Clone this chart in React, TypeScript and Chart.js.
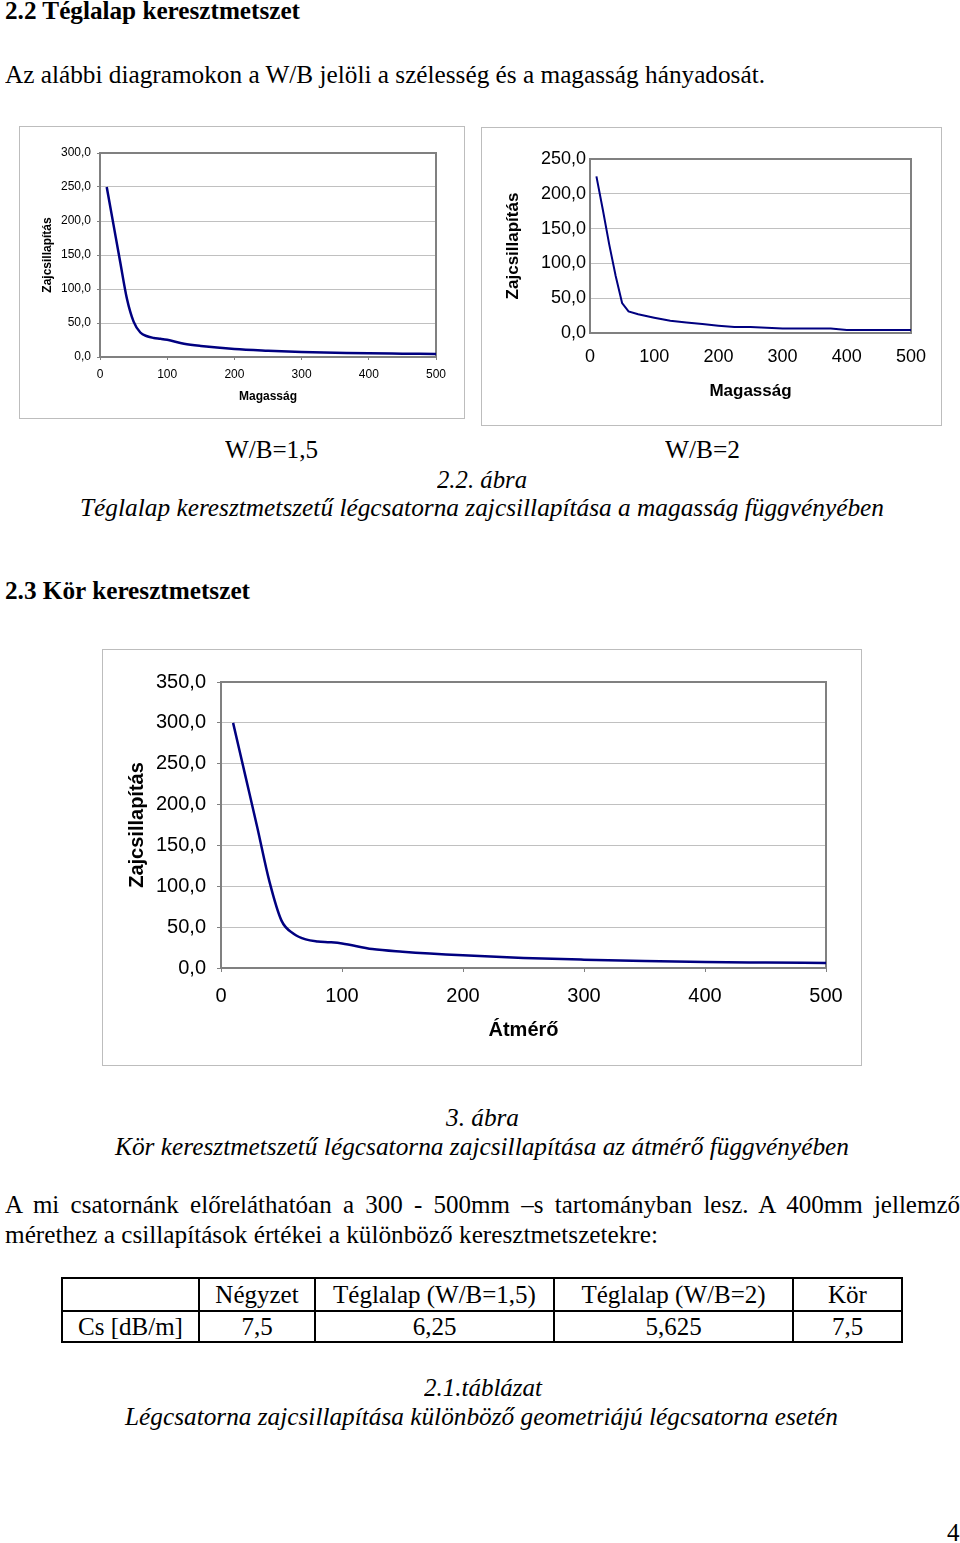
import React, { useEffect, useLayoutEffect, useRef } from 'react';
import { Chart, registerables } from 'chart.js';

Chart.register(...registerables);

// ---------- data ----------
const wb15X = [10, 20, 30, 40, 50, 60, 70, 80, 90, 100, 125, 150, 200, 250, 300, 350, 400, 450, 500];
const wb15Y = [250, 195, 140, 86, 52, 36, 30.5, 28, 26.8, 25.3, 19.5, 16.2, 11.8, 9.3, 7.4, 6.4, 5.4, 4.9, 4.4];

const wb2X = [10, 20, 30, 40, 50, 60, 75, 100, 125, 150, 175, 200, 225, 250, 300, 350, 375, 400, 450, 500];
const wb2Y = [225, 177, 127, 82, 43, 31, 27, 22, 17.5, 15, 12.8, 10.5, 8.6, 8.6, 6.3, 6.3, 6.3, 4.2, 4.2, 4.2];

const korX = [10, 20, 30, 40, 50, 60, 70, 80, 90, 100, 125, 150, 200, 250, 300, 350, 400, 450, 500];
const korY = [300, 236, 172, 106, 58, 42, 35, 32.5, 31.5, 30, 23.2, 20, 15.5, 12.3, 10.2, 8.6, 7.4, 6.7, 6.1];

const yTitle = 'Zajcsillapítás';
const xTitleRect = 'Magasság';
const xTitleKor = 'Átmérő';

const tableHead = ['', 'Négyzet', 'Téglalap (W/B=1,5)', 'Téglalap (W/B=2)', 'Kör'];
const tableRow = ['Cs [dB/m]', '7,5', '6,25', '5,625', '7,5'];

// ---------- chart ----------
const SANS = '"Liberation Sans", Arial, sans-serif';
const SERIF = '"Liberation Serif", "Times New Roman", serif';

const framePlugin = {
  id: 'frame',
  beforeDatasetsDraw(chart: any) {
    const { ctx, chartArea } = chart;
    const { left, top, right, bottom } = chartArea;
    ctx.save();
    ctx.strokeStyle = '#808080';
    ctx.lineWidth = 2;
    ctx.beginPath();
    ctx.moveTo(left, top);
    ctx.lineTo(right, top);
    ctx.lineTo(right, bottom);
    ctx.stroke();
    ctx.restore();
  },
};

type Spec = {
  left: number; top: number; w: number; h: number;
  xs: number[]; ys: number[]; yMax: number;
  area: { l: number; t: number; r: number; b: number };
  tickSize: number; titleSize: number; tickLen: number;
  yTickPad: number; xTickPad: number; yTitlePad: number; xTitlePad: number;
  lineWidth: number; smooth: boolean; xTitle: string;
};

function LineChart({ s }: { s: Spec }) {
  const ref = useRef<HTMLCanvasElement>(null);
  const cw = s.w - 2;
  const ch = s.h - 2;
  useEffect(() => {
    if (!ref.current) return;
    const tickFont = { family: SANS, size: s.tickSize };
    const titleFont = { family: SANS, size: s.titleSize, weight: 'bold' as const };
    const chart = new Chart(ref.current, {
      type: 'line',
      data: {
        datasets: [
          {
            data: s.xs.map((x, i) => ({ x, y: s.ys[i] })),
            borderColor: '#000080',
            borderWidth: s.lineWidth,
            pointRadius: 0,
            fill: false,
            tension: s.smooth ? 0.4 : 0,
            cubicInterpolationMode: s.smooth ? 'monotone' : 'default',
          } as any,
        ],
      },
      options: {
        animation: false,
        responsive: false,
        maintainAspectRatio: false,
        devicePixelRatio: 1,
        events: [],
        plugins: { legend: { display: false }, tooltip: { enabled: false } },
        layout: { padding: { left: 0, top: s.area.t, right: cw - s.area.r, bottom: 0 } },
        scales: {
          x: {
            type: 'linear',
            min: 0,
            max: 500,
            ticks: { stepSize: 100, font: tickFont, color: '#000', padding: s.xTickPad, maxRotation: 0, autoSkip: false },
            grid: { drawOnChartArea: false, color: '#808080', tickColor: '#808080', tickLength: s.tickLen, lineWidth: 1 },
            border: { color: '#808080', width: 2 },
            title: { display: true, text: s.xTitle, font: titleFont, color: '#000', padding: { top: 0, bottom: s.xTitlePad } },
            afterFit: (sc: any) => { sc.height = ch - s.area.b; },
          },
          y: {
            type: 'linear',
            min: 0,
            max: s.yMax,
            ticks: {
              stepSize: 50,
              font: tickFont,
              color: '#000',
              padding: s.yTickPad,
              callback: (v: any) => Number(v).toFixed(1).replace('.', ','),
            },
            grid: { color: '#c0c0c0', tickColor: '#808080', tickLength: s.tickLen, lineWidth: 1 },
            border: { color: '#808080', width: 2 },
            title: { display: true, text: yTitle, font: titleFont, color: '#000', padding: { top: s.yTitlePad, bottom: 0 } },
            afterFit: (sc: any) => { sc.width = s.area.l; },
          },
        },
      } as any,
      plugins: [framePlugin],
    });
    return () => chart.destroy();
  }, [s]);
  return (
    <div
      style={{
        position: 'absolute',
        left: s.left,
        top: s.top,
        width: cw,
        height: ch,
        border: '1px solid #bdbdbd',
        background: '#fff',
      }}
    >
      <canvas ref={ref} width={cw} height={ch} style={{ display: 'block', width: cw, height: ch }} />
    </div>
  );
}

const chart1: Spec = {
  left: 19, top: 126, w: 446, h: 293,
  xs: wb15X, ys: wb15Y, yMax: 300,
  area: { l: 80, t: 26, r: 416, b: 230 },
  tickSize: 12, titleSize: 12, tickLen: 3,
  yTickPad: 6, xTickPad: 7, yTitlePad: 20, xTitlePad: 14,
  lineWidth: 2.5, smooth: true, xTitle: xTitleRect,
};

const chart2: Spec = {
  left: 481, top: 127, w: 461, h: 299,
  xs: wb2X, ys: wb2Y, yMax: 250,
  area: { l: 108, t: 31, r: 429, b: 205 },
  tickSize: 18, titleSize: 17, tickLen: 0,
  yTickPad: 4, xTickPad: 13, yTitlePad: 21, xTitlePad: 23,
  lineWidth: 2, smooth: false, xTitle: xTitleRect,
};

const chart3: Spec = {
  left: 102, top: 649, w: 760, h: 417,
  xs: korX, ys: korY, yMax: 350,
  area: { l: 118, t: 32, r: 723, b: 318 },
  tickSize: 20, titleSize: 20, tickLen: 4,
  yTickPad: 11, xTickPad: 12, yTitlePad: 22, xTitlePad: 23,
  lineWidth: 2.5, smooth: true, xTitle: xTitleKor,
};

// ---------- text ----------
type TProps = {
  x: number; base: number; text: string; w?: number; size?: number;
  bold?: boolean; italic?: boolean; justify?: boolean;
};

function T({ x, base, text, w, size = 25, bold, italic, justify }: TProps) {
  const ref = useRef<HTMLSpanElement>(null);
  useLayoutEffect(() => {
    const el = ref.current;
    if (!el || !w) return;
    el.style.transform = '';
    el.style.wordSpacing = '';
    const nat = el.getBoundingClientRect().width;
    if (!nat) return;
    if (justify) {
      const n = (text.match(/ /g) || []).length;
      const extra = (w - nat) / Math.max(n, 1);
      if (extra >= 0) {
        el.style.wordSpacing = extra + 'px';
        return;
      }
    }
    el.style.transform = `scaleX(${w / nat})`;
  }, [w, text, justify, size]);
  return (
    <span
      ref={ref}
      style={{
        position: 'absolute',
        left: x,
        top: base - 0.8375 * size,
        fontSize: size,
        lineHeight: `${size}px`,
        whiteSpace: 'pre',
        fontWeight: bold ? 700 : 400,
        fontStyle: italic ? 'italic' : 'normal',
        transformOrigin: '0 0',
        display: 'inline-block',
      }}
    >
      {text}
    </span>
  );
}

function Table() {
  const cols = [62, 199, 315, 554, 793, 902];
  const rows = [1278, 1311, 1342];
  const lines: React.ReactNode[] = [];
  rows.forEach((y, i) =>
    lines.push(
      <div key={'h' + i} style={{ position: 'absolute', left: cols[0] - 1, top: y - 1, width: cols[5] - cols[0] + 2, height: 2, background: '#000' }} />
    )
  );
  cols.forEach((x, i) =>
    lines.push(
      <div key={'v' + i} style={{ position: 'absolute', left: x - 1, top: rows[0] - 1, width: 2, height: rows[2] - rows[0] + 2, background: '#000' }} />
    )
  );
  const cells: React.ReactNode[] = [];
  [tableHead, tableRow].forEach((row, r) =>
    row.forEach((txt, c) =>
      cells.push(
        <div
          key={`c${r}-${c}`}
          style={{
            position: 'absolute',
            left: cols[c],
            top: rows[r],
            width: cols[c + 1] - cols[c],
            height: rows[r + 1] - rows[r],
            display: 'flex',
            alignItems: 'center',
            justifyContent: 'center',
            fontSize: 25,
            lineHeight: '25px',
            whiteSpace: 'pre',
          }}
        >
          {txt}
        </div>
      )
    )
  );
  return (
    <>
      {lines}
      {cells}
    </>
  );
}

export default function App() {
  useLayoutEffect(() => {
    document.body.style.margin = '0';
    document.body.style.background = '#fff';
  }, []);
  return (
    <div
      style={{
        position: 'relative',
        width: 960,
        height: 1543,
        overflow: 'hidden',
        fontFamily: SERIF,
        color: '#000',
        background: '#fff',
      }}
    >
      <T x={5} base={19} w={295} bold text="2.2 Téglalap keresztmetszet" />
      <T x={5} base={83} w={760} text="Az alábbi diagramokon a W/B jelöli a szélesség és a magasság hányadosát." />

      <LineChart s={chart1} />
      <LineChart s={chart2} />

      <T x={225} base={458} w={93} text="W/B=1,5" />
      <T x={665} base={458} w={75} text="W/B=2" />
      <T x={437} base={488} w={90} italic text="2.2. ábra" />
      <T x={80} base={516} w={804} italic text="Téglalap keresztmetszetű légcsatorna zajcsillapítása a magasság függvényében" />

      <T x={5} base={599} w={245} bold text="2.3 Kör keresztmetszet" />

      <LineChart s={chart3} />

      <T x={446} base={1126} w={73} italic text="3. ábra" />
      <T x={115} base={1155} w={734} italic text="Kör keresztmetszetű légcsatorna zajcsillapítása az átmérő függvényében" />

      <T x={5} base={1213} w={955} justify text="A mi csatornánk előreláthatóan a 300 - 500mm –s tartományban lesz. A 400mm jellemző" />
      <T x={5} base={1243} w={653} text="mérethez a csillapítások értékei a különböző keresztmetszetekre:" />

      <Table />

      <T x={424} base={1396} w={118} italic text="2.1.táblázat" />
      <T x={125} base={1425} w={713} italic text="Légcsatorna zajcsillapítása különböző geometriájú légcsatorna esetén" />

      <T x={947} base={1541} text="4" />
    </div>
  );
}
